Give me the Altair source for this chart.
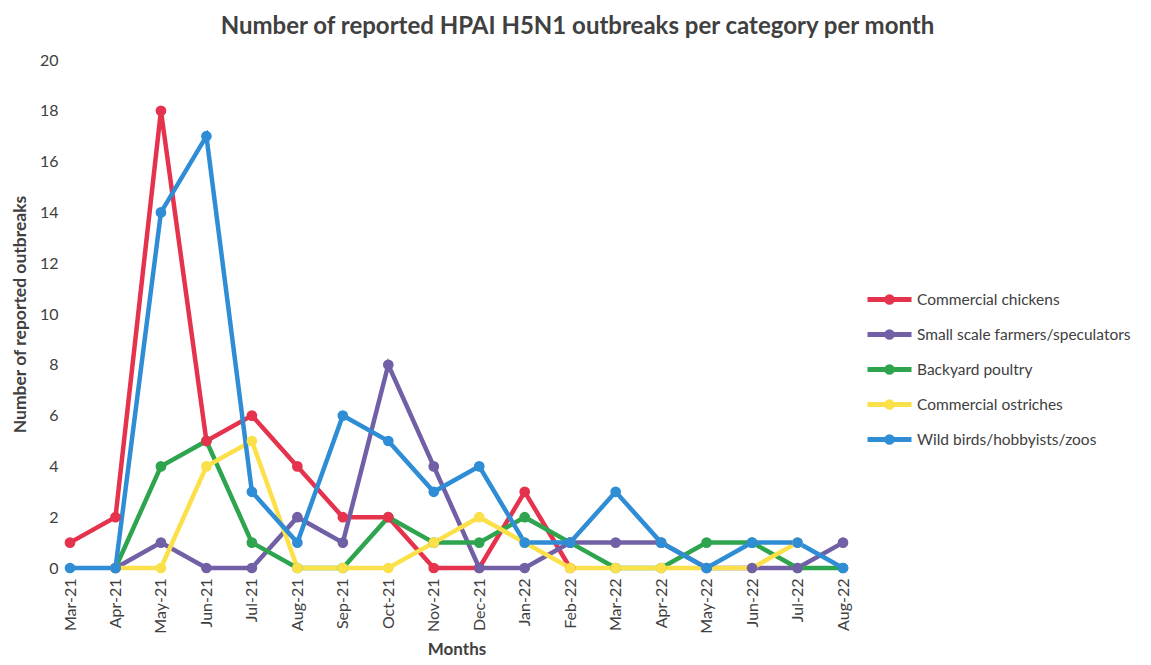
import altair as alt
import pandas as pd

months = ["Mar-21", "Apr-21", "May-21", "Jun-21", "Jul-21", "Aug-21", "Sep-21", "Oct-21",
          "Nov-21", "Dec-21", "Jan-22", "Feb-22", "Mar-22", "Apr-22", "May-22", "Jun-22",
          "Jul-22", "Aug-22"]

categories = ["Commercial chickens", "Small scale farmers/speculators", "Backyard poultry",
              "Commercial ostriches", "Wild birds/hobbyists/zoos"]
colors = ["#E5324D", "#7160A6", "#2EA44F", "#FCE04A", "#2F8DD6"]

commercial_chickens = [1, 2, 18, 5, 6, 4, 2, 2, 0, 0, 3, 0, None, None, None, None, None, None]
small_scale = [None, 0, 1, 0, 0, 2, 1, 8, 4, 0, 0, 1, 1, 1, 0, 0, 0, 1]
backyard = [None, 0, 4, 5, 1, 0, 0, 2, 1, 1, 2, 1, 0, 0, 1, 1, 0, 0]
ostriches = [None, 0, 0, 4, 5, 0, 0, 0, 1, 2, 1, 0, 0, 0, 0, 0, 1, None]
wild_birds = [0, 0, 14, 17, 3, 1, 6, 5, 3, 4, 1, 1, 3, 1, 0, 1, 1, 0]

series = [commercial_chickens, small_scale, backyard, ostriches, wild_birds]

rows = []
for cat, vals in zip(categories, series):
    for m, v in zip(months, vals):
        if v is not None:
            rows.append({"Month": m, "Category": cat, "Value": v})
df = pd.DataFrame(rows)

FONT = "Lato"
TXT = "#404040"

legend_path = "M-2,0L2,0M0.25,0A0.25,0.25,0,1,1,-0.25,0A0.25,0.25,0,1,1,0.25,0"

chart = alt.Chart(df).mark_line(
    strokeWidth=4.5,
    point=alt.OverlayMarkDef(size=115, filled=True, opacity=1),
).encode(
    x=alt.X("Month:N", sort=months, scale=alt.Scale(type="point", padding=0),
            axis=alt.Axis(title="Months", labelAngle=270, labelFontSize=16, labelColor=TXT,
                          labelFont=FONT, labelPadding=10, domain=False, ticks=False,
                          titleFont=FONT, titleFontSize=17, titleColor=TXT, titleFontWeight="bold",
                          titleY=81, titleBaseline="middle", grid=False)),
    y=alt.Y("Value:Q", scale=alt.Scale(domain=[0, 20], nice=False),
            axis=alt.Axis(title="Number of reported outbreaks", values=list(range(0, 21, 2)),
                          labelFontSize=16, labelColor=TXT, labelFont=FONT, labelPadding=12,
                          domain=False, ticks=False, grid=False,
                          titleFont=FONT, titleFontSize=17.5, titleColor=TXT, titleFontWeight="bold",
                          titleX=-50, titleBaseline="middle")),
    color=alt.Color("Category:N", sort=categories,
                    scale=alt.Scale(domain=categories, range=colors),
                    legend=alt.Legend(orient="none", legendX=806, legendY=226, title=None,
                                      symbolType=legend_path, symbolSize=484,
                                      symbolStrokeWidth=5, labelFontSize=15.5, labelColor=TXT,
                                      labelFont=FONT, rowPadding=8, labelOffset=14,
                                      labelLimit=0)),
    order=alt.Order("Category:N"),
).properties(
    width=773,
    height=508,
    title=alt.TitleParams("Number of reported HPAI H5N1 outbreaks per category per month",
                          font=FONT, fontSize=24, fontWeight="bold", color=TXT,
                          anchor="middle", dx=121, offset=13),
    padding={"left": 62, "top": 52, "right": 300, "bottom": 89},
    autosize=alt.AutoSizeParams(type="none"),
).configure_view(stroke=None)

chart.save("out.html", embed_options={"renderer": "svg", "actions": False})
